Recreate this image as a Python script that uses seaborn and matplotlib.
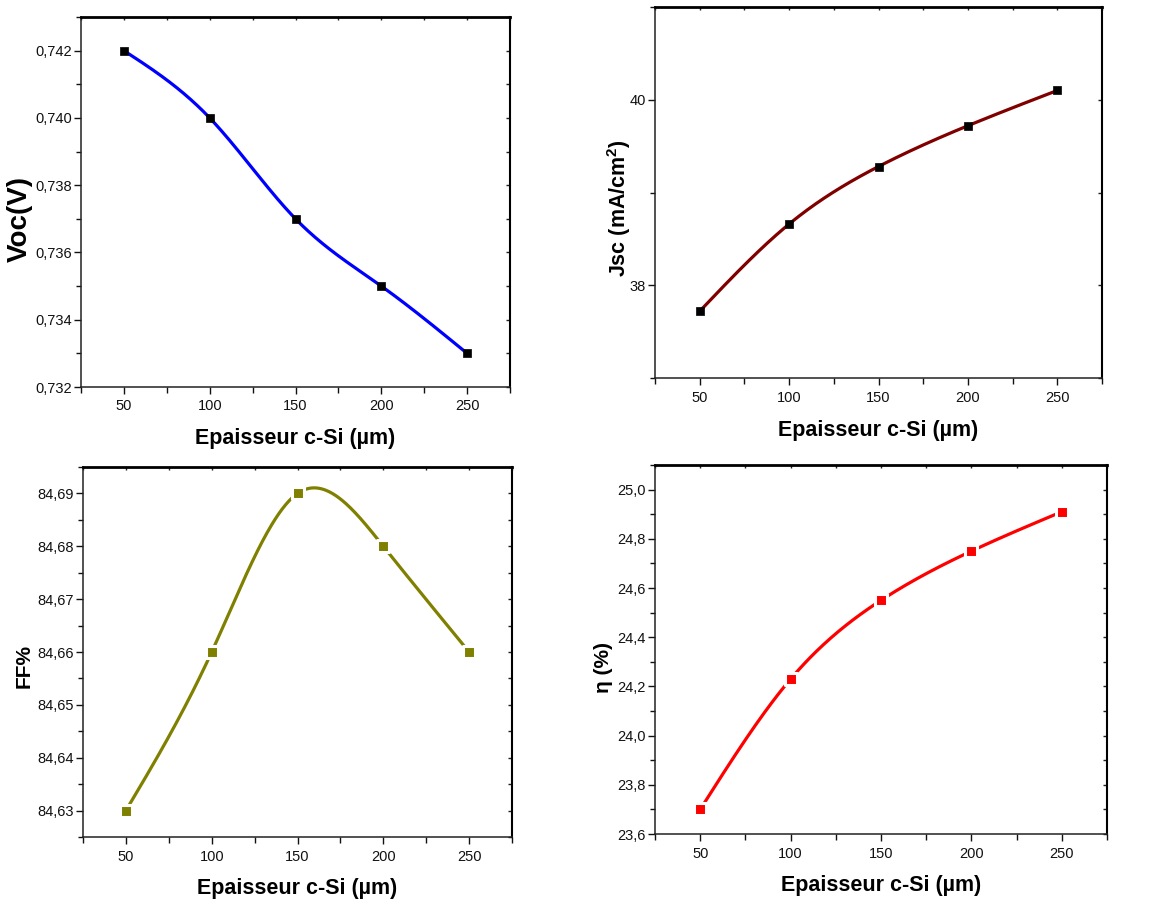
import numpy as np
import pandas as pd
import matplotlib
matplotlib.use("Agg")
import matplotlib.pyplot as plt
from matplotlib.ticker import FixedLocator, FixedFormatter, MultipleLocator
import seaborn as sns

# c-Si thickness study: Voc, Jsc, FF and efficiency

thickness = [50, 100, 150, 200, 250]
voc = [0.742, 0.740, 0.737, 0.735, 0.733]
jsc = [37.72, 38.66, 39.28, 39.72, 40.10]
ff = [84.63, 84.66, 84.69, 84.68, 84.66]
eta = [23.70, 24.23, 24.55, 24.75, 24.91]

x_ticks = [50, 100, 150, 200, 250]
voc_ticks = [0.732, 0.734, 0.736, 0.738, 0.740, 0.742]
voc_labels = ["0,732", "0,734", "0,736", "0,738", "0,740", "0,742"]
jsc_ticks = [38, 40]
jsc_labels = ["38", "40"]
ff_ticks = [84.63, 84.64, 84.65, 84.66, 84.67, 84.68, 84.69]
ff_labels = ["84,63", "84,64", "84,65", "84,66", "84,67", "84,68", "84,69"]
eta_ticks = [23.6, 23.8, 24.0, 24.2, 24.4, 24.6, 24.8, 25.0]
eta_labels = ["23,6", "23,8", "24,0", "24,2", "24,4", "24,6", "24,8", "25,0"]

xlabel = "Epaisseur c-Si (µm)"

sns.set_style("white")
plt.rcParams["font.family"] = ["Liberation Sans", "DejaVu Sans"]
plt.rcParams["mathtext.fontset"] = "custom"
plt.rcParams["mathtext.bf"] = "Liberation Sans:bold"
plt.rcParams["mathtext.rm"] = "Liberation Sans:bold"


def natural_spline(x, y, n=300):
    # smooth connection through the measured points (cubic spline, natural ends)
    x = np.asarray(x, float)
    y = np.asarray(y, float)
    h = np.diff(x)
    m = len(x)
    A = np.zeros((m, m))
    b = np.zeros(m)
    A[0, 0] = A[-1, -1] = 1
    for i in range(1, m - 1):
        A[i, i - 1] = h[i - 1]
        A[i, i] = 2 * (h[i - 1] + h[i])
        A[i, i + 1] = h[i]
        b[i] = 6 * ((y[i + 1] - y[i]) / h[i] - (y[i] - y[i - 1]) / h[i - 1])
    M = np.linalg.solve(A, b)
    xs = np.linspace(x[0], x[-1], n)
    idx = np.clip(np.searchsorted(x, xs) - 1, 0, m - 2)
    x0, x1 = x[idx], x[idx + 1]
    hh = x1 - x0
    t0, t1 = x1 - xs, xs - x0
    ys = (M[idx] * t0**3 + M[idx + 1] * t1**3) / (6 * hh) \
        + (y[idx] / hh - M[idx] * hh / 6) * t0 \
        + (y[idx + 1] / hh - M[idx + 1] * hh / 6) * t1
    return xs, ys


W, H = 1156, 905
fig = plt.figure(figsize=(W / 100, H / 100), dpi=100)


def px_axes(left, top, right, bottom):
    return fig.add_axes([left / W, (H - bottom) / H, (right - left) / W, (bottom - top) / H])


panels = [
    dict(box=(81, 17, 510, 387), y=voc, color="#0000FF", mk="black", gap=False,
         ylim=(0.732, 0.743), ticks=voc_ticks, labels=voc_labels, minor=0.001,
         ylabel="Voc(V)", ysize=20, ycoords=(-0.112, 0.455), xcoords=-0.112),
    dict(box=(655, 7, 1102, 378), y=jsc, color="#800000", mk="black", gap=False,
         ylim=(37, 41), ticks=jsc_ticks, labels=jsc_labels, minor=1,
         ylabel=r"Jsc (mA/cm$^\mathbf{2}$)", ysize=15.5, ycoords=(-0.05, 0.458), xcoords=-0.112),
    dict(box=(83, 467, 512, 837), y=ff, color="#808000", mk="#808000", gap=True,
         ylim=(84.625, 84.695), ticks=ff_ticks, labels=ff_labels, minor=0.005,
         ylabel="FF%", ysize=15, ycoords=(-0.115, 0.462), xcoords=-0.11),
    dict(box=(655, 465, 1107, 834), y=eta, color="#FF0000", mk="#FF0000", gap=True,
         ylim=(23.6, 25.1), ticks=eta_ticks, labels=eta_labels, minor=0.1,
         ylabel="η (%)", ysize=15, ycoords=(-0.092, 0.45), xcoords=-0.112),
]

for p in panels:
    ax = px_axes(*p["box"])
    xs, ys = natural_spline(thickness, p["y"])
    curve = pd.DataFrame({"x": xs, "y": ys})
    pts = pd.DataFrame({"x": thickness, "y": p["y"]})

    sns.lineplot(data=curve, x="x", y="y", ax=ax, color=p["color"], linewidth=2.3,
                 sort=False, zorder=2)
    if p["gap"]:
        sns.scatterplot(data=pts, x="x", y="y", ax=ax, marker="s", s=64,
                        color=p["mk"], edgecolor="white", linewidth=2.2, zorder=3)
    else:
        sns.scatterplot(data=pts, x="x", y="y", ax=ax, marker="s", s=40,
                        color=p["mk"], edgecolor=p["mk"], linewidth=0.5, zorder=3)

    ax.set_xlim(25, 275)
    ax.set_ylim(*p["ylim"])
    ax.xaxis.set_major_locator(FixedLocator(x_ticks))
    ax.xaxis.set_minor_locator(MultipleLocator(25))
    ax.yaxis.set_major_locator(FixedLocator(p["ticks"]))
    ax.yaxis.set_major_formatter(FixedFormatter(p["labels"]))
    ax.yaxis.set_minor_locator(MultipleLocator(p["minor"]))

    ax.tick_params(which="both", direction="out", colors="#111111", labelsize=10.5,
                   left=True, bottom=True)
    ax.tick_params(axis="y", which="major", length=5, width=1, pad=1.5)
    ax.tick_params(axis="y", which="minor", length=3.5, width=1)
    ax.tick_params(axis="x", which="major", length=5, width=1, pad=4)
    ax.tick_params(axis="x", which="minor", length=4, width=1)

    for side in ["left", "bottom"]:
        ax.spines[side].set_linewidth(1.1)
        ax.spines[side].set_color("#222222")
    ax.spines["top"].set_linewidth(2)
    ax.spines["top"].set_color("black")
    ax.spines["right"].set_linewidth(1.5)
    ax.spines["right"].set_color("black")

    top = ax.secondary_xaxis("top")
    top.xaxis.set_major_locator(MultipleLocator(25))
    top.tick_params(direction="in", length=2, width=1, labeltop=False, colors="#222222")
    top.spines["top"].set_visible(False)
    right = ax.secondary_yaxis("right")
    right.yaxis.set_major_locator(MultipleLocator(p["minor"]))
    right.tick_params(direction="in", length=3, width=1, labelright=False, colors="#222222")
    right.spines["right"].set_visible(False)

    ax.set_xlabel(xlabel, fontsize=15.5, fontweight="bold", color="black")
    ax.xaxis.set_label_coords(0.5, p["xcoords"])
    ax.set_ylabel(p["ylabel"], fontsize=p["ysize"], fontweight="bold", color="black")
    ax.yaxis.set_label_coords(*p["ycoords"])

plt.savefig("out.png", dpi=100)
